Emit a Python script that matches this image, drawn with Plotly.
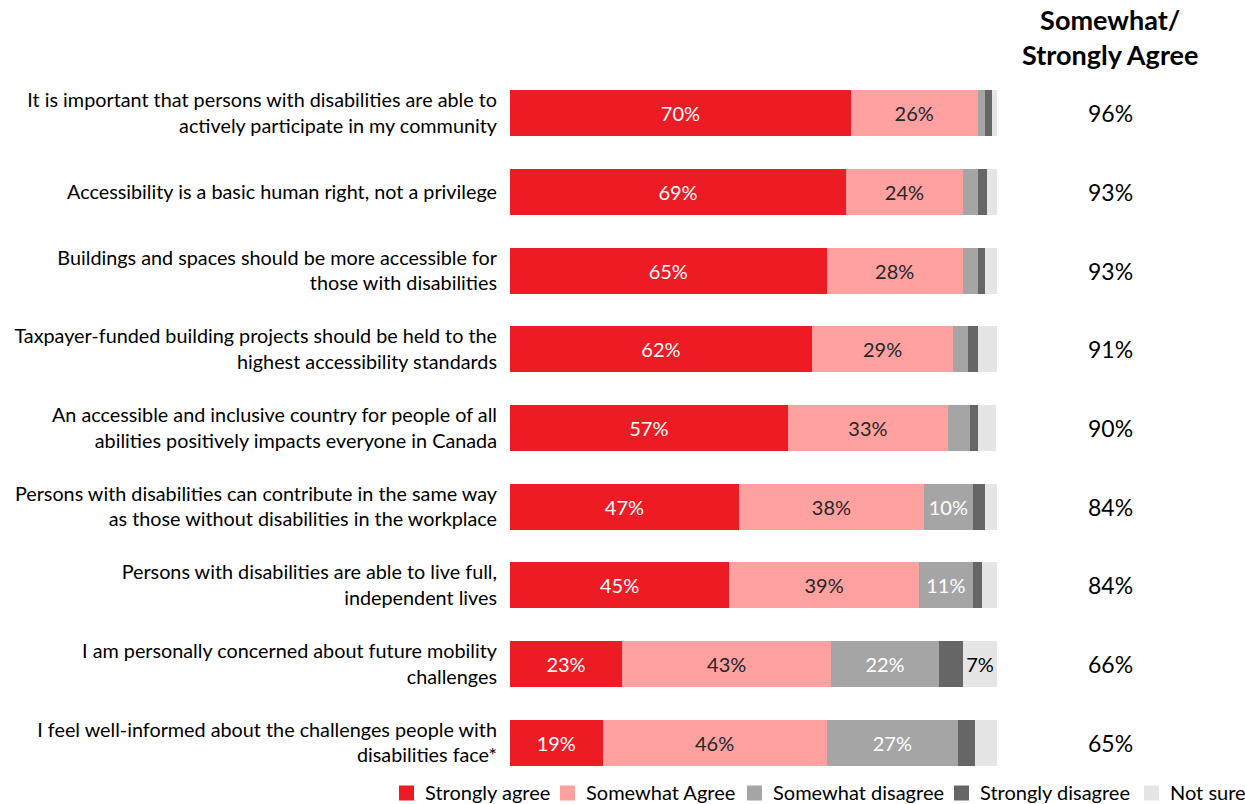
import plotly.graph_objects as go

statements = [
    "It is important that persons with disabilities are able to<br>actively participate in my community",
    "Accessibility is a basic human right, not a privilege",
    "Buildings and spaces should be more accessible for<br>those with disabilities",
    "Taxpayer-funded building projects should be held to the<br>highest accessibility standards",
    "An accessible and inclusive country for people of all<br>abilities positively impacts everyone in Canada",
    "Persons with disabilities can contribute in the same way<br>as those without disabilities in the workplace",
    "Persons with disabilities are able to live full,<br>independent lives",
    "I am personally concerned about future mobility<br>challenges",
    "I feel well-informed about the challenges people with<br>disabilities face*",
]

strongly_agree = [70, 69, 65, 62, 57, 47, 45, 23, 19]
somewhat_agree = [26, 24, 28, 29, 33, 38, 39, 43, 46]
somewhat_disagree = [1.5, 3, 3, 3, 4.5, 10, 11, 22, 27]
strongly_disagree = [1.4, 2, 1.5, 2, 1.7, 2.5, 2, 5, 3.5]
not_sure = [1.1, 2, 2.5, 4, 3.5, 2.5, 3, 7, 4.5]

agree_total = [96, 93, 93, 91, 90, 84, 84, 66, 65]

series_names = ["Strongly agree", "Somewhat Agree", "Somewhat disagree",
                "Strongly disagree", "Not sure"]
series_values = [strongly_agree, somewhat_agree, somewhat_disagree,
                 strongly_disagree, not_sure]
series_colors = ["#ED1C24", "#FFA1A1", "#A5A5A5", "#666666", "#E5E5E5"]
label_colors = ["#FFFFFF", "#262626", "#FFFFFF", "#FFFFFF", "#000000"]

FONT = "Lato"
W, H = 1245, 804
ML, MR, MT, MB = 510, 248, 74, 22
PW, PH = W - ML - MR, H - MT - MB


def px_to_paper_x(px):
    return (px - ML) / PW


def px_to_paper_y(py):
    return (H - MB - py) / PH


fig = go.Figure()
for name, vals, color, tcolor in zip(series_names, series_values,
                                     series_colors, label_colors):
    labels = [f"{v:.0f}%" if v >= 6 else "" for v in vals]
    fig.add_trace(go.Bar(
        y=statements, x=vals, name=name, orientation="h",
        marker=dict(color=color, line=dict(width=0)),
        text=labels, textposition="inside", insidetextanchor="middle",
        textangle=0, constraintext="none",
        textfont=dict(family=FONT, size=20, color=tcolor),
        width=0.585, hoverinfo="skip", showlegend=False,
    ))

# Net agreement column on the right
col_x = px_to_paper_x(1110)
for stmt, tot in zip(statements, agree_total):
    fig.add_annotation(
        x=col_x, xref="paper", y=stmt, yref="y",
        text=f"{tot}%", showarrow=False,
        font=dict(family=FONT, size=23, color="#000000"),
        xanchor="center", yanchor="middle",
    )

fig.add_annotation(
    x=col_x, xref="paper", y=px_to_paper_y(37), yref="paper",
    text="<b>Somewhat/<br>Strongly Agree</b>", showarrow=False,
    font=dict(family=FONT, size=27, color="#000000"),
    xanchor="center", yanchor="middle",
)

# Legend row along the bottom edge
legend_x = [399, 560, 747, 954, 1144]
sw = 15
y_mid = 792
for lx, name, color in zip(legend_x, series_names, series_colors):
    fig.add_shape(
        type="rect", xref="paper", yref="paper",
        x0=px_to_paper_x(lx), x1=px_to_paper_x(lx + sw),
        y0=px_to_paper_y(y_mid + 1 + sw / 2), y1=px_to_paper_y(y_mid + 1 - sw / 2),
        fillcolor=color, line=dict(width=0),
    )
    fig.add_annotation(
        x=px_to_paper_x(lx + 24), xref="paper",
        y=px_to_paper_y(y_mid), yref="paper",
        text=name, showarrow=False, xanchor="left", yanchor="middle",
        font=dict(family=FONT, size=20, color="#000000"),
    )

fig.update_layout(
    barmode="stack",
    width=W, height=H,
    margin=dict(l=ML, r=MR, t=MT, b=MB, pad=0),
    paper_bgcolor="#FFFFFF", plot_bgcolor="#FFFFFF",
    font=dict(family=FONT, color="#000000"),
    xaxis=dict(range=[0, 100], visible=False, fixedrange=True),
    yaxis=dict(
        autorange="reversed", showgrid=False, zeroline=False, showline=False,
        ticks="", ticklabelstandoff=12,
        tickfont=dict(family=FONT, size=19.8, color="#000000"),
    ),
    showlegend=False,
)

fig.write_html("out.html")
